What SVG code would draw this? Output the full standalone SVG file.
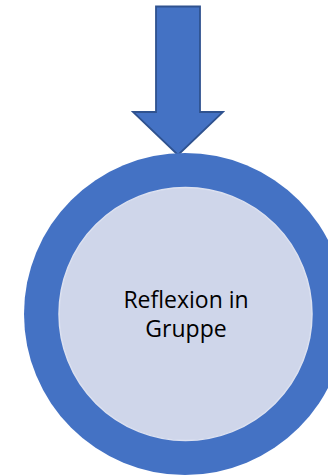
<svg xmlns="http://www.w3.org/2000/svg" width="328" height="476" viewBox="0 0 328 476">
  <style>
    .outer { fill: #4472C4; }
    .inner { fill: #CFD6EA; stroke: #DCE1F0; stroke-width: 1.5; }
    .arrow { fill: #4472C4; stroke: #2F528F; stroke-width: 1.8; stroke-linejoin: miter; }
    .label { font-family: "Open Sans", "Noto Sans", sans-serif; font-size: 23px; fill: #000000; text-anchor: middle; }
  </style>
  <rect width="328" height="476" fill="#FFFFFF"/>
  <g id="connectors">
    <path class="arrow" d="M156,6.5 L200,6.5 L200,112 L223,112 L178,155 L133,112 L156,112 Z"/>
  </g>
  <g id="node-reflexion">
    <circle class="outer" cx="185" cy="314" r="161"/>
    <circle class="inner" cx="185.5" cy="314" r="126.5"/>
    <text class="label" x="186" y="308">Reflexion in</text>
    <text class="label" x="186" y="337">Gruppe</text>
  </g>
</svg>
